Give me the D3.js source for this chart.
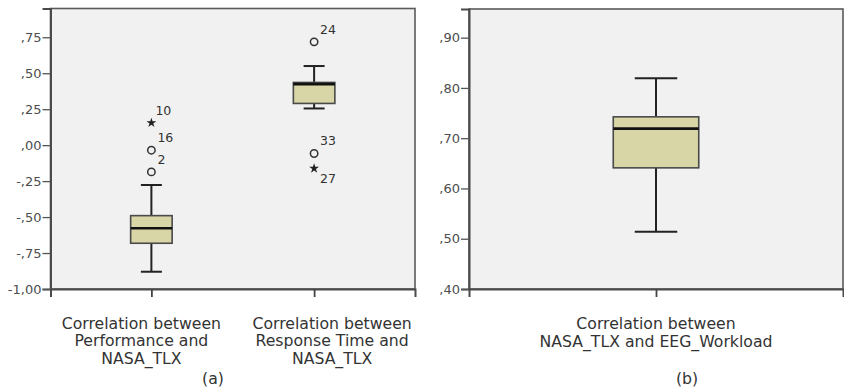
<!DOCTYPE html>
<html>
<head>
<meta charset="utf-8">
<script src="https://cdn.jsdelivr.net/npm/d3@7"></script>
<style>
  html, body { margin: 0; padding: 0; background: #fff; }
  svg { display: block; }
  text { font-family: "DejaVu Sans", Verdana, sans-serif; }
</style>
</head>
<body>
<svg id="chart" width="844" height="391"></svg>
<script>
// ---------- DATA ----------
// Panel (a)
const categoriesA = ["Correlation between|Performance and|NASA_TLX",
                     "Correlation between|Response Time and|NASA_TLX"];
const whiskerLowA  = [-0.88, 0.255];
const q1A          = [-0.682, 0.29];
const medianA      = [-0.578, 0.424];
const q3A          = [-0.49, 0.436];
const whiskerHighA = [-0.277, 0.55];
const outlierCatA   = [0, 0, 0, 1, 1, 1];
const outlierValA   = [0.155, -0.035, -0.186, 0.718, -0.058, -0.162];
const outlierLabelA = ["10", "16", "2", "24", "33", "27"];
const outlierTypeA  = ["extreme", "outlier", "outlier", "outlier", "outlier", "extreme"];
const yTicksA = [-1.00, -0.75, -0.50, -0.25, 0.00, 0.25, 0.50, 0.75];

// Panel (b)
const categoriesB = ["Correlation between|NASA_TLX and EEG_Workload"];
const whiskerLowB  = [0.514];
const q1B          = [0.641];
const medianB      = [0.719];
const q3B          = [0.7425];
const whiskerHighB = [0.819];
const yTicksB = [0.40, 0.50, 0.60, 0.70, 0.80, 0.90];

const panelCaptions = ["(a)", "(b)"];

// ---------- HELPERS ----------
const fmt = v => {
  let s = Math.abs(v).toFixed(2).replace(/^0\./, ".").replace(".", ",");
  return (v < -1e-9 ? "-" : "") + s;
};

const svg = d3.select("#chart");

function drawPanel(cfg) {
  const g = svg.append("g");
  const { left, right, top, bottom } = cfg;

  const y = d3.scaleLinear().domain(cfg.yDomain).range([bottom, top]);
  const x = d3.scalePoint().domain(cfg.categories.map((d, i) => i)).range([left, right]).padding(cfg.padding);

  g.append("rect")
    .attr("x", left).attr("y", top)
    .attr("width", right - left).attr("height", bottom - top)
    .attr("fill", "#f1f1f1")
    .attr("stroke", "#5a5a5a").attr("stroke-width", 1.6);

  const yAxis = d3.axisLeft(y).tickValues(cfg.yTicks).tickFormat(fmt).tickSize(8).tickPadding(1);
  const ya = g.append("g").attr("transform", `translate(${left},0)`).call(yAxis);
  ya.select(".domain").attr("stroke", "#4a4a4a").attr("stroke-width", 2);
  ya.selectAll(".tick line").attr("stroke", "#555").attr("stroke-width", 1.3);
  ya.selectAll(".tick text").attr("fill", "#4d4d4d").style("font-size", "13px")
    .style("font-family", "'DejaVu Sans', Verdana, sans-serif");

  const xAxis = d3.axisBottom(x).tickSize(8).tickFormat("");
  const xa = g.append("g").attr("transform", `translate(0,${bottom})`).call(xAxis);
  xa.select(".domain").attr("stroke", "#4a4a4a").attr("stroke-width", 2);
  xa.selectAll(".tick line").attr("stroke", "#444").attr("stroke-width", 1.8);

  // category labels
  cfg.categories.forEach((c, i) => {
    const lines = c.split("|");
    const t = g.append("text")
      .attr("text-anchor", "middle")
      .attr("fill", "#333")
      .style("font-size", "15.7px");
    lines.forEach((ln, j) => {
      t.append("tspan").attr("x", x(i) + cfg.labelShift[i]).attr("y", cfg.labelY + j * 17.8).text(ln);
    });
  });

  // boxes
  const bw = cfg.boxWidth, cw = cfg.capWidth;
  cfg.categories.forEach((c, i) => {
    const cx = x(i);
    const bg = g.append("g");
    bg.append("line").attr("x1", cx).attr("x2", cx)
      .attr("y1", y(cfg.whiskerHigh[i])).attr("y2", y(cfg.q3[i]))
      .attr("stroke", "#222").attr("stroke-width", 2);
    bg.append("line").attr("x1", cx).attr("x2", cx)
      .attr("y1", y(cfg.q1[i])).attr("y2", y(cfg.whiskerLow[i]))
      .attr("stroke", "#222").attr("stroke-width", 2);
    [cfg.whiskerHigh[i], cfg.whiskerLow[i]].forEach(v => {
      bg.append("line").attr("x1", cx - cw / 2).attr("x2", cx + cw / 2)
        .attr("y1", y(v)).attr("y2", y(v))
        .attr("stroke", "#222").attr("stroke-width", 2);
    });
    bg.append("rect")
      .attr("x", cx - bw / 2).attr("width", bw)
      .attr("y", y(cfg.q3[i])).attr("height", y(cfg.q1[i]) - y(cfg.q3[i]))
      .attr("fill", "#d8d5a6").attr("stroke", "#4a4a4a").attr("stroke-width", 1.6);
    bg.append("line").attr("x1", cx - bw / 2).attr("x2", cx + bw / 2)
      .attr("y1", y(cfg.median[i])).attr("y2", y(cfg.median[i]))
      .attr("stroke", "#111").attr("stroke-width", 2.6);
  });

  // outliers
  if (cfg.outlierVal) {
    const star = d3.symbol().type(d3.symbolStar).size(30);
    cfg.outlierVal.forEach((v, k) => {
      const cx = x(cfg.outlierCat[k]);
      const cy = y(v);
      if (cfg.outlierType[k] === "outlier") {
        g.append("circle").attr("cx", cx).attr("cy", cy).attr("r", 3.7)
          .attr("fill", "none").attr("stroke", "#333").attr("stroke-width", 1.5);
      } else {
        g.append("path").attr("d", star).attr("transform", `translate(${cx},${cy})`)
          .attr("fill", "#222");
      }
      const lbl = cfg.outlierLabel[k];
      const below = lbl === "27";
      g.append("text")
        .attr("x", cx + (lbl === "10" ? 4 : 6))
        .attr("y", below ? cy + 14.5 : cy - 8)
        .attr("fill", "#333")
        .style("font-size", "12.5px")
        .text(lbl);
    });
  }
  return x;
}

drawPanel({
  left: 50.5, right: 415, top: 8.5, bottom: 289,
  yDomain: [-1, 0.95], yTicks: yTicksA, padding: 0.62,
  categories: categoriesA,
  whiskerLow: whiskerLowA, q1: q1A, median: medianA, q3: q3A, whiskerHigh: whiskerHighA,
  outlierCat: outlierCatA, outlierVal: outlierValA, outlierLabel: outlierLabelA, outlierType: outlierTypeA,
  boxWidth: 41.5, capWidth: 21, labelY: 328.5, labelShift: [-10, 18]
});

drawPanel({
  left: 469, right: 843, top: 9, bottom: 289,
  yDomain: [0.4, 0.957], yTicks: yTicksB, padding: 0.5,
  categories: categoriesB,
  whiskerLow: whiskerLowB, q1: q1B, median: medianB, q3: q3B, whiskerHigh: whiskerHighB,
  boxWidth: 85.5, capWidth: 42.5, labelY: 329, labelShift: [0]
});

svg.append("text").attr("x", 213).attr("y", 384).attr("text-anchor", "middle")
  .attr("fill", "#333").style("font-size", "15.7px").text(panelCaptions[0]);
svg.append("text").attr("x", 687).attr("y", 384).attr("text-anchor", "middle")
  .attr("fill", "#333").style("font-size", "15.7px").text(panelCaptions[1]);
</script>
</body>
</html>
